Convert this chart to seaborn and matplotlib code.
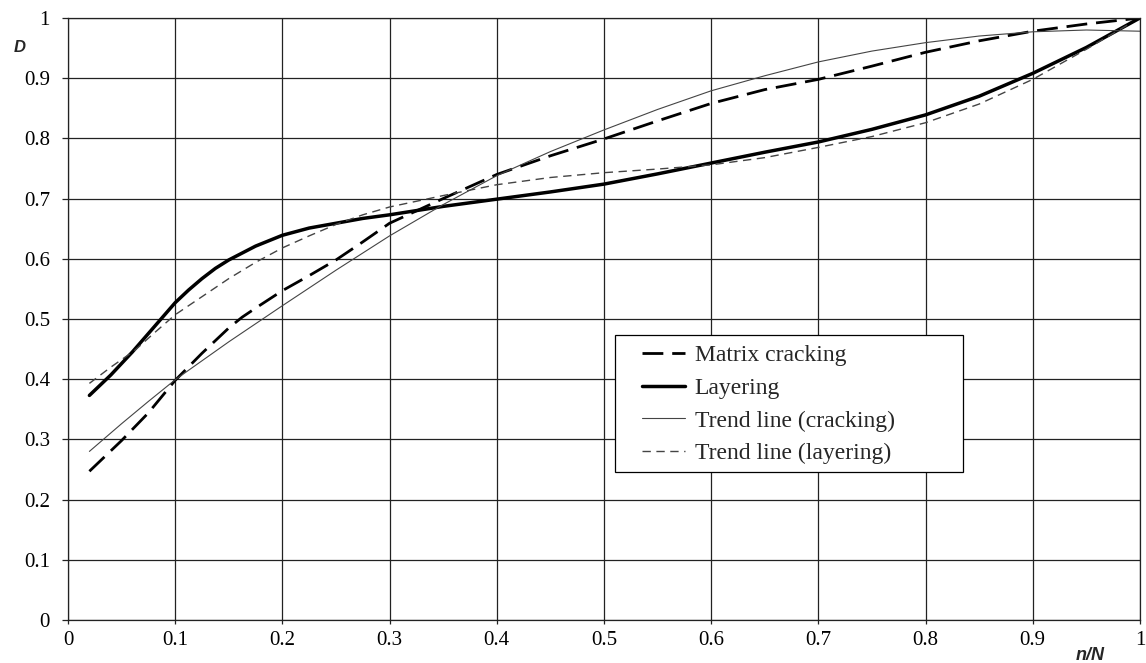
import numpy as np
import pandas as pd
import seaborn as sns
import matplotlib.pyplot as plt
from matplotlib.patches import Rectangle
from matplotlib.ticker import MultipleLocator, FuncFormatter

# values (x = n/N, y = D)
crack_x = [0.02, 0.05, 0.075, 0.1, 0.125, 0.15, 0.1625, 0.175, 0.2, 0.225, 0.25, 0.275, 0.3,
           0.35, 0.4, 0.45, 0.5, 0.55, 0.6, 0.65, 0.7, 0.75, 0.8, 0.85, 0.9, 0.95, 1.0]
crack_d = [0.247, 0.298, 0.344, 0.398, 0.443, 0.485, 0.503, 0.518, 0.547, 0.572, 0.598, 0.628, 0.659,
           0.70, 0.74, 0.771, 0.799, 0.829, 0.858, 0.881, 0.898, 0.92, 0.943, 0.962, 0.978, 0.99, 1.0]

layer_x = [0.02, 0.04, 0.06, 0.08, 0.1, 0.1125, 0.125, 0.1375, 0.15, 0.175, 0.2, 0.225, 0.25,
           0.275, 0.3, 0.35, 0.4, 0.45, 0.5, 0.55, 0.6, 0.65, 0.7, 0.75, 0.8, 0.85, 0.9, 0.95, 1.0]
layer_d = [0.373, 0.407, 0.445, 0.486, 0.527, 0.548, 0.567, 0.584, 0.598, 0.621, 0.639, 0.651, 0.659,
           0.667, 0.673, 0.687, 0.699, 0.711, 0.724, 0.741, 0.759, 0.777, 0.794, 0.815, 0.839, 0.87,
           0.908, 0.951, 1.0]

trend_crack_x = [0.02, 0.05, 0.075, 0.1, 0.15, 0.2, 0.25, 0.3, 0.35, 0.4, 0.45, 0.5, 0.55, 0.6,
                 0.65, 0.7, 0.75, 0.8, 0.85, 0.9, 0.95, 1.0]
trend_crack_d = [0.28, 0.326, 0.363, 0.399, 0.462, 0.522, 0.581, 0.638, 0.69, 0.738, 0.778, 0.814,
                 0.848, 0.879, 0.904, 0.927, 0.945, 0.959, 0.970, 0.977, 0.98, 0.978]

trend_layer_x = [0.02, 0.04, 0.0625, 0.08, 0.1, 0.125, 0.15, 0.175, 0.2, 0.225, 0.25, 0.275, 0.3,
                 0.35, 0.4, 0.45, 0.5, 0.55, 0.6, 0.65, 0.7, 0.75, 0.8, 0.85, 0.9, 0.95, 0.99]
trend_layer_d = [0.393, 0.42, 0.448, 0.476, 0.507, 0.537, 0.567, 0.594, 0.618, 0.638, 0.657, 0.673,
                 0.686, 0.705, 0.723, 0.735, 0.743, 0.749, 0.756, 0.768, 0.785, 0.803, 0.826, 0.857,
                 0.898, 0.948, 0.99]

labels = ['Matrix cracking', 'Layering', 'Trend line (cracking)', 'Trend line (layering)']

sns.set_theme(style='white')
plt.rcParams['font.family'] = ['Liberation Serif', 'DejaVu Serif']

fig = plt.figure(figsize=(11.46, 6.63), dpi=100)
ax = fig.add_axes([0.0593, 0.0649, 0.9354, 0.9080])

# draw the four curves
sns.lineplot(x=crack_x, y=crack_d, ax=ax, color='black', linewidth=2.0,
             linestyle=(0, (7.5, 3.2)), label=labels[0], errorbar=None)
sns.lineplot(x=layer_x, y=layer_d, ax=ax, color='black', linewidth=2.5,
             label=labels[1], errorbar=None)
sns.lineplot(x=trend_crack_x, y=trend_crack_d, ax=ax, color='#444444', linewidth=0.8,
             label=labels[2], errorbar=None)
sns.lineplot(x=trend_layer_x, y=trend_layer_d, ax=ax, color='#444444', linewidth=1.0,
             linestyle=(0, (6, 4)), label=labels[3], errorbar=None)

ax.set_xlim(0, 1)
ax.set_ylim(0, 1)
ax.xaxis.set_major_locator(MultipleLocator(0.1))
ax.yaxis.set_major_locator(MultipleLocator(0.1))
fmt = FuncFormatter(lambda v, _: f'{v:g}')
ax.xaxis.set_major_formatter(fmt)
ax.yaxis.set_major_formatter(fmt)
ax.grid(True, color='#222222', linewidth=0.9)
ax.set_axisbelow(True)
for sp in ax.spines.values():
    sp.set_color('#222222')
    sp.set_linewidth(0.9)
ax.tick_params(axis='x', length=3, width=0.9, color='#222222', pad=5, labelsize=15, labelcolor='black', bottom=True)
ax.tick_params(axis='y', length=4, width=0.9, color='#222222', pad=9, labelsize=15, labelcolor='black', left=True)
ax.set_xlabel('')
ax.set_ylabel('')

# legend box drawn separately so its frame matches the original
box = Rectangle(((615 - 68) / 1072, (620 - 472) / 602), (963 - 615) / 1072, (472 - 335) / 602,
                transform=ax.transAxes, facecolor='white', edgecolor='black', linewidth=0.9, zorder=4)
ax.add_patch(box)
leg = ax.legend(loc='upper left', bbox_to_anchor=((642 - 68) / 1072, (620 - 345) / 602),
                frameon=False, borderpad=0, borderaxespad=0, fontsize=17,
                handlelength=1.82, handletextpad=0.42, labelspacing=0.47)
leg.set_zorder(5)

fig.text(20 / 1146, 1 - 48 / 663, 'D', family='Liberation Sans', fontweight='bold', fontstyle='italic',
         fontsize=12, ha='center', va='center')
fig.text(1090 / 1146, 1 - 655 / 663, 'n/N', family='Liberation Sans', fontweight='bold', fontstyle='italic',
         fontsize=13, ha='center', va='center')

fig.savefig('out.png', dpi=100)
